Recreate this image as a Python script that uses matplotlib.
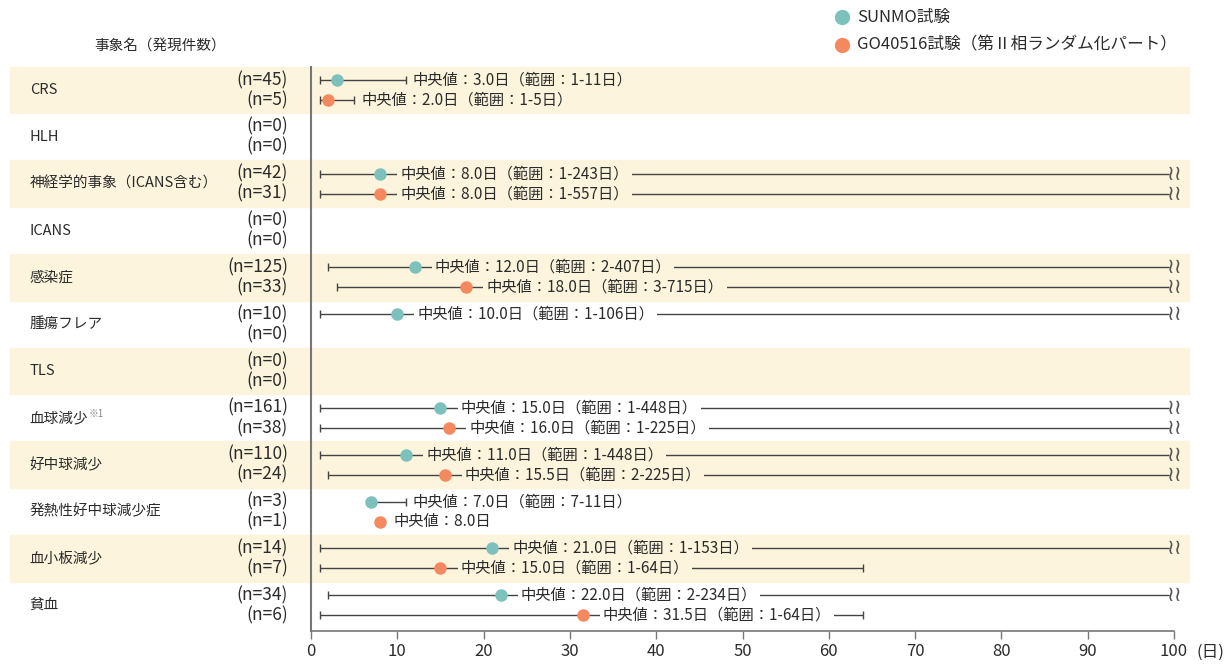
import matplotlib
matplotlib.use('Agg')
import matplotlib.pyplot as plt

plt.rcParams['font.family'] = ['Noto Sans CJK JP', 'DejaVu Sans']

events = ['CRS', 'HLH', '神経学的事象（ICANS含む）', 'ICANS', '感染症', '腫瘍フレア', 'TLS',
          '血球減少', '好中球減少', '発熱性好中球減少症', '血小板減少', '貧血']
n_sunmo = [45, 0, 42, 0, 125, 10, 0, 161, 110, 3, 14, 34]
n_go = [5, 0, 31, 0, 33, 0, 0, 38, 24, 1, 7, 6]
med_sunmo = [3.0, None, 8.0, None, 12.0, 10.0, None, 15.0, 11.0, 7.0, 21.0, 22.0]
lo_sunmo = [1, None, 1, None, 2, 1, None, 1, 1, 7, 1, 2]
hi_sunmo = [11, None, 243, None, 407, 106, None, 448, 448, 11, 153, 234]
med_go = [2.0, None, 8.0, None, 18.0, None, None, 16.0, 15.5, 8.0, 15.0, 31.5]
lo_go = [1, None, 1, None, 3, None, None, 1, 2, None, 1, 1]
hi_go = [5, None, 557, None, 715, None, None, 225, 225, None, 64, 64]

teal = '#7cc1bb'
orange = '#f4895f'
band = '#fcf4dc'
txt = '#2b2b2b'
line_c = '#444444'

fig = plt.figure(figsize=(12.26, 6.64), dpi=100)
ax = fig.add_axes([311 / 1226, 1 - 631 / 664, 863 / 1226, (631 - 66.6) / 664])
ax.set_xlim(0, 100)
ax.set_ylim(len(events) - 0.45, -0.5)

off = 0.214  # sub-row offset

for i, ev in enumerate(events):
    bg = band if i % 2 == 0 else 'white'
    if i % 2 == 0:
        ax.axhspan(i - 0.5, i + 0.5, xmin=-0.349, xmax=1.017, color=band, zorder=0, clip_on=False)
    # category label
    ax.text(-0.326, i, ev, transform=ax.get_yaxis_transform(), ha='left', va='center',
            fontsize=10.5, color=txt)
    if ev == '血球減少':
        ax.text(-0.2572, i - 0.08, '※1', transform=ax.get_yaxis_transform(), ha='left',
                va='center', fontsize=7, color='#888888')
    for k, (n, med, lo, hi, col) in enumerate([
            (n_sunmo[i], med_sunmo[i], lo_sunmo[i], hi_sunmo[i], teal),
            (n_go[i], med_go[i], lo_go[i], hi_go[i], orange)]):
        y = i - off if k == 0 else i + off
        ax.text(-0.0267, y, f'(n={n})', transform=ax.get_yaxis_transform(), ha='right',
                va='center', fontsize=12.5, color=txt)
        if med is None:
            continue
        if lo is not None:
            end = min(hi, 99.4)
            ax.plot([lo, end], [y, y], color=line_c, lw=1, zorder=2, solid_capstyle='butt')
            ax.plot([lo], [y], marker='|', color=line_c, ms=6, mew=1, zorder=2)
            if hi <= 100:
                ax.plot([hi], [y], marker='|', color=line_c, ms=6, mew=1, zorder=2)
            else:
                ax.text(99.2, y, '≀≀', ha='left', va='center', fontsize=15, color='#555555',
                        family='DejaVu Sans', zorder=4)
            label = f'中央値：{med:.1f}日（範囲：{lo}-{hi}日）'
        else:
            label = f'中央値：{med:.1f}日'
        ax.plot([med], [y], marker='o', color=col, ms=9, mec='none', zorder=5)
        if lo is not None and hi - med < 10:
            ax.annotate(label, (hi, y), xytext=(5, 0), textcoords='offset points',
                        ha='left', va='center', fontsize=11, color=txt, zorder=4)
        elif lo is not None:
            ax.annotate(label, (med, y), xytext=(14.5, 0), textcoords='offset points',
                        ha='left', va='center', fontsize=11, color=txt, zorder=4,
                        bbox=dict(boxstyle='square,pad=0.2', fc=bg, ec='none'))
        else:
            ax.annotate(label, (med, y), xytext=(9.5, 0), textcoords='offset points',
                        ha='left', va='center', fontsize=11, color=txt, zorder=4)

# header
fig.text(160 / 1226, 1 - 46 / 664, '事象名（発現件数）', ha='center', va='center',
         fontsize=10.5, color=txt)

# legend
for yy, col, lab in [(17, teal, 'SUNMO試験'), (45, orange, 'GO40516試験（第Ⅱ相ランダム化パート）')]:
    fig.lines.append(plt.Line2D([842 / 1226], [1 - yy / 664], marker='o', color=col, ms=11,
                                mec='none', transform=fig.transFigure))
    fig.text(857 / 1226, 1 - yy / 664, lab, ha='left', va='center', fontsize=12, color=txt)

# axes styling
for s in ['top', 'right']:
    ax.spines[s].set_visible(False)
ax.spines['left'].set_color('#777777')
ax.spines['left'].set_linewidth(1.5)
ax.spines['bottom'].set_color('#777777')
ax.spines['bottom'].set_linewidth(1.2)
ax.set_yticks([])
ax.set_xticks(range(0, 101, 10))
ax.tick_params(axis='x', direction='out', length=6, width=1, color='#777777',
               labelsize=12, labelcolor=txt, pad=3)
fig.text(1196 / 1226, 1 - 652 / 664, '(日)', ha='left', va='center', fontsize=12, color=txt)

fig.savefig('out.png', dpi=100)
